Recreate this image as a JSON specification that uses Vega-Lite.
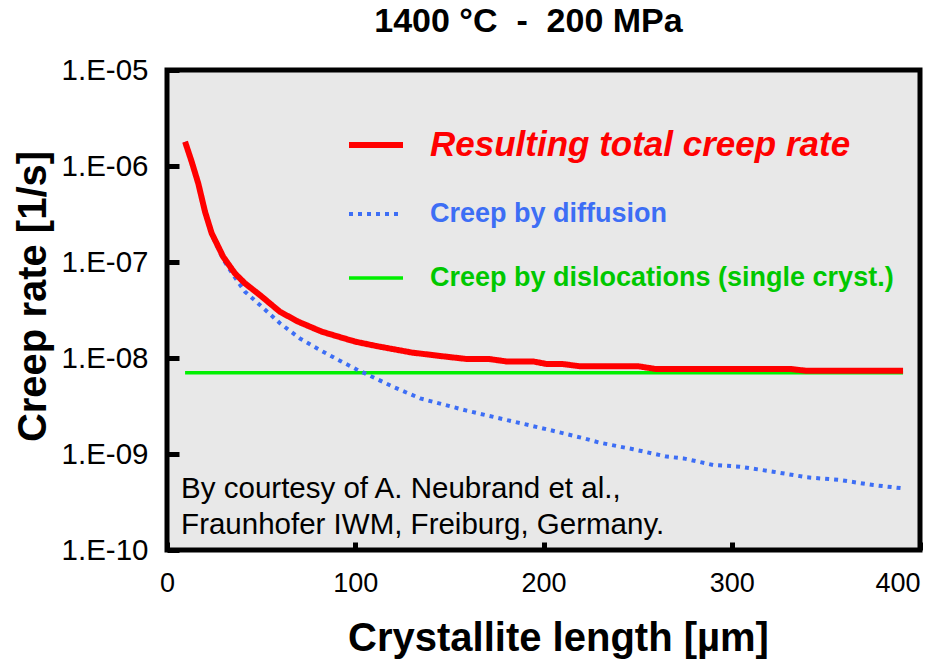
{
  "$schema": "https://vega.github.io/schema/vega-lite/v6.json",
  "width": 753,
  "height": 480,
  "autosize": {"type": "none"},
  "padding": {"left": 167, "top": 70, "right": 5, "bottom": 109},
  "background": "white",
  "title": {
    "text": "1400 °C \u00a0-\u00a0 200 MPa",
    "font": "Liberation Sans",
    "fontSize": 34,
    "fontWeight": "bold",
    "color": "black",
    "anchor": "middle",
    "dx": -15,
    "offset": 16
  },
  "config": {
    "view": {"fill": "#e8e8e8", "stroke": "black", "strokeWidth": 5},
    "axis": {
      "domain": false,
      "grid": false,
      "tickColor": "black",
      "labelColor": "black",
      "titleColor": "black",
      "labelFont": "Liberation Sans",
      "titleFont": "Liberation Sans",
      "titleFontWeight": "bold",
      "titleFontSize": 40
    }
  },
  "layer": [
    {
      "data": {
        "values": [
          {"length": 9.6, "rate": 7.0e-9, "series": "Creep by dislocations (single cryst.)"},
          {"length": 391, "rate": 7.0e-9, "series": "Creep by dislocations (single cryst.)"},

          {"length": 9.6, "rate": 1.78e-6, "series": "Creep by diffusion"},
          {"length": 13.1, "rate": 1.10e-6, "series": "Creep by diffusion"},
          {"length": 16.6, "rate": 6.5e-7, "series": "Creep by diffusion"},
          {"length": 20.2, "rate": 3.27e-7, "series": "Creep by diffusion"},
          {"length": 23.7, "rate": 1.93e-7, "series": "Creep by diffusion"},
          {"length": 29.9, "rate": 1.06e-7, "series": "Creep by diffusion"},
          {"length": 36.1, "rate": 6.9e-8, "series": "Creep by diffusion"},
          {"length": 41.4, "rate": 4.91e-8, "series": "Creep by diffusion"},
          {"length": 50.3, "rate": 3.43e-8, "series": "Creep by diffusion"},
          {"length": 60, "rate": 2.30e-8, "series": "Creep by diffusion"},
          {"length": 70.6, "rate": 1.60e-8, "series": "Creep by diffusion"},
          {"length": 81.3, "rate": 1.21e-8, "series": "Creep by diffusion"},
          {"length": 91, "rate": 9.55e-9, "series": "Creep by diffusion"},
          {"length": 100.8, "rate": 7.6e-9, "series": "Creep by diffusion"},
          {"length": 120.2, "rate": 5.0e-9, "series": "Creep by diffusion"},
          {"length": 134.4, "rate": 3.8e-9, "series": "Creep by diffusion"},
          {"length": 159.2, "rate": 2.83e-9, "series": "Creep by diffusion"},
          {"length": 180.4, "rate": 2.26e-9, "series": "Creep by diffusion"},
          {"length": 201.7, "rate": 1.81e-9, "series": "Creep by diffusion"},
          {"length": 221.2, "rate": 1.46e-9, "series": "Creep by diffusion"},
          {"length": 230, "rate": 1.31e-9, "series": "Creep by diffusion"},
          {"length": 247.7, "rate": 1.12e-9, "series": "Creep by diffusion"},
          {"length": 265.4, "rate": 9.4e-10, "series": "Creep by diffusion"},
          {"length": 274.3, "rate": 9.0e-10, "series": "Creep by diffusion"},
          {"length": 290.2, "rate": 7.68e-10, "series": "Creep by diffusion"},
          {"length": 304.4, "rate": 7.38e-10, "series": "Creep by diffusion"},
          {"length": 322, "rate": 6.54e-10, "series": "Creep by diffusion"},
          {"length": 339.8, "rate": 5.72e-10, "series": "Creep by diffusion"},
          {"length": 357.5, "rate": 5.36e-10, "series": "Creep by diffusion"},
          {"length": 375.2, "rate": 4.75e-10, "series": "Creep by diffusion"},
          {"length": 390.3, "rate": 4.4e-10, "series": "Creep by diffusion"},

          {"length": 9.6, "rate": 1.79e-6, "series": "Resulting total creep rate"},
          {"length": 13.1, "rate": 1.11e-6, "series": "Resulting total creep rate"},
          {"length": 16.6, "rate": 6.6e-7, "series": "Resulting total creep rate"},
          {"length": 20.2, "rate": 3.34e-7, "series": "Resulting total creep rate"},
          {"length": 23.7, "rate": 2.0e-7, "series": "Resulting total creep rate"},
          {"length": 29.9, "rate": 1.13e-7, "series": "Resulting total creep rate"},
          {"length": 36.1, "rate": 7.6e-8, "series": "Resulting total creep rate"},
          {"length": 41.4, "rate": 6.0e-8, "series": "Resulting total creep rate"},
          {"length": 50.3, "rate": 4.37e-8, "series": "Resulting total creep rate"},
          {"length": 60, "rate": 3.03e-8, "series": "Resulting total creep rate"},
          {"length": 69.7, "rate": 2.39e-8, "series": "Resulting total creep rate"},
          {"length": 82.2, "rate": 1.88e-8, "series": "Resulting total creep rate"},
          {"length": 100, "rate": 1.48e-8, "series": "Resulting total creep rate"},
          {"length": 111.4, "rate": 1.33e-8, "series": "Resulting total creep rate"},
          {"length": 130, "rate": 1.14e-8, "series": "Resulting total creep rate"},
          {"length": 145, "rate": 1.05e-8, "series": "Resulting total creep rate"},
          {"length": 159, "rate": 9.77e-9, "series": "Resulting total creep rate"},
          {"length": 171, "rate": 9.77e-9, "series": "Resulting total creep rate"},
          {"length": 180.4, "rate": 9.2e-9, "series": "Resulting total creep rate"},
          {"length": 194.6, "rate": 9.2e-9, "series": "Resulting total creep rate"},
          {"length": 201.7, "rate": 8.66e-9, "series": "Resulting total creep rate"},
          {"length": 210, "rate": 8.66e-9, "series": "Resulting total creep rate"},
          {"length": 219.4, "rate": 8.2e-9, "series": "Resulting total creep rate"},
          {"length": 250.4, "rate": 8.2e-9, "series": "Resulting total creep rate"},
          {"length": 259.2, "rate": 7.7e-9, "series": "Resulting total creep rate"},
          {"length": 331, "rate": 7.7e-9, "series": "Resulting total creep rate"},
          {"length": 339.8, "rate": 7.35e-9, "series": "Resulting total creep rate"},
          {"length": 391, "rate": 7.35e-9, "series": "Resulting total creep rate"}
        ]
      },
      "mark": {"type": "line", "strokeCap": "butt", "strokeJoin": "round"},
      "encoding": {
        "x": {
          "field": "length",
          "type": "quantitative",
          "scale": {"domain": [0, 400], "nice": false, "zero": false},
          "axis": {
            "title": "Crystallite length [µm]",
            "titleX": 391,
            "values": [0, 100, 200, 300, 400],
            "tickSize": -8,
            "tickWidth": 5,
            "labelFontSize": 27,
            "labelPadding": 28,
            "labelAlign": {"expr": "datum.value >= 400 ? 'right' : 'center'"},
            "titlePadding": 22
          }
        },
        "y": {
          "field": "rate",
          "type": "quantitative",
          "scale": {"type": "log", "domain": [1e-10, 1e-5], "nice": false},
          "axis": {
            "title": "Creep rate [1/s]",
            "titleY": 226,
            "values": [1e-10, 1e-9, 1e-8, 1e-7, 1e-6, 1e-5],
            "labelExpr": "'1.E-' + (round(-log(datum.value) / LN10) < 10 ? '0' : '') + round(-log(datum.value) / LN10)",
            "tickSize": -12,
            "tickWidth": 5,
            "labelFontSize": 29.5,
            "labelPadding": 31,
            "titlePadding": 8
          }
        },
        "color": {
          "field": "series",
          "type": "nominal",
          "scale": {
            "domain": ["Resulting total creep rate", "Creep by diffusion", "Creep by dislocations (single cryst.)"],
            "range": ["#ff0000", "#3d6ef5", "#00f000"]
          },
          "legend": {
            "orient": "none", "legendX": 179, "legendY": 45, "title": null, "direction": "vertical",
            "symbolType": "stroke", "symbolSize": 2916, "labelOffset": 24, "rowPadding": 22,
            "labelFont": "Liberation Sans", "labelFontWeight": "bold", "labelLimit": 700,
            "labelFontSize": {"expr": "datum.value === 'Resulting total creep rate' ? 35 : 27"},
            "labelFontStyle": {"expr": "datum.value === 'Resulting total creep rate' ? 'italic' : 'normal'"},
            "labelColor": {"expr": "datum.value === 'Resulting total creep rate' ? '#ff0000' : datum.value === 'Creep by diffusion' ? '#3d6ef5' : '#00c800'"}
          }
        },
        "strokeDash": {
          "field": "series",
          "type": "nominal",
          "scale": {
            "domain": ["Resulting total creep rate", "Creep by diffusion", "Creep by dislocations (single cryst.)"],
            "range": [[1, 0], [4, 5], [1, 0]]
          },
          "legend": {
            "orient": "none", "legendX": 179, "legendY": 45, "title": null, "direction": "vertical",
            "symbolType": "stroke", "symbolSize": 2916, "labelOffset": 24, "rowPadding": 22,
            "labelFont": "Liberation Sans", "labelFontWeight": "bold", "labelLimit": 700,
            "labelFontSize": {"expr": "datum.value === 'Resulting total creep rate' ? 35 : 27"},
            "labelFontStyle": {"expr": "datum.value === 'Resulting total creep rate' ? 'italic' : 'normal'"},
            "labelColor": {"expr": "datum.value === 'Resulting total creep rate' ? '#ff0000' : datum.value === 'Creep by diffusion' ? '#3d6ef5' : '#00c800'"}
          }
        },
        "strokeWidth": {
          "field": "series",
          "type": "nominal",
          "scale": {
            "type": "ordinal",
            "domain": ["Resulting total creep rate", "Creep by diffusion", "Creep by dislocations (single cryst.)"],
            "range": [6, 4, 3.5]
          },
          "legend": {
            "orient": "none", "legendX": 179, "legendY": 45, "title": null, "direction": "vertical",
            "symbolType": "stroke", "symbolSize": 2916, "labelOffset": 24, "rowPadding": 22,
            "labelFont": "Liberation Sans", "labelFontWeight": "bold", "labelLimit": 700,
            "labelFontSize": {"expr": "datum.value === 'Resulting total creep rate' ? 35 : 27"},
            "labelFontStyle": {"expr": "datum.value === 'Resulting total creep rate' ? 'italic' : 'normal'"},
            "labelColor": {"expr": "datum.value === 'Resulting total creep rate' ? '#ff0000' : datum.value === 'Creep by diffusion' ? '#3d6ef5' : '#00c800'"}
          }
        }
      }
    },
    {
      "data": {"values": [{"note": "By courtesy of A. Neubrand et al.,\nFraunhofer IWM, Freiburg, Germany."}]},
      "mark": {
        "type": "text",
        "align": "left",
        "baseline": "alphabetic",
        "lineBreak": "\n",
        "lineHeight": 36,
        "font": "Liberation Sans",
        "fontSize": 29.5,
        "color": "black"
      },
      "encoding": {
        "text": {"field": "note"},
        "x": {"datum": 7.5, "type": "quantitative"},
        "y": {"datum": 3.48e-10, "type": "quantitative"}
      }
    }
  ]
}
